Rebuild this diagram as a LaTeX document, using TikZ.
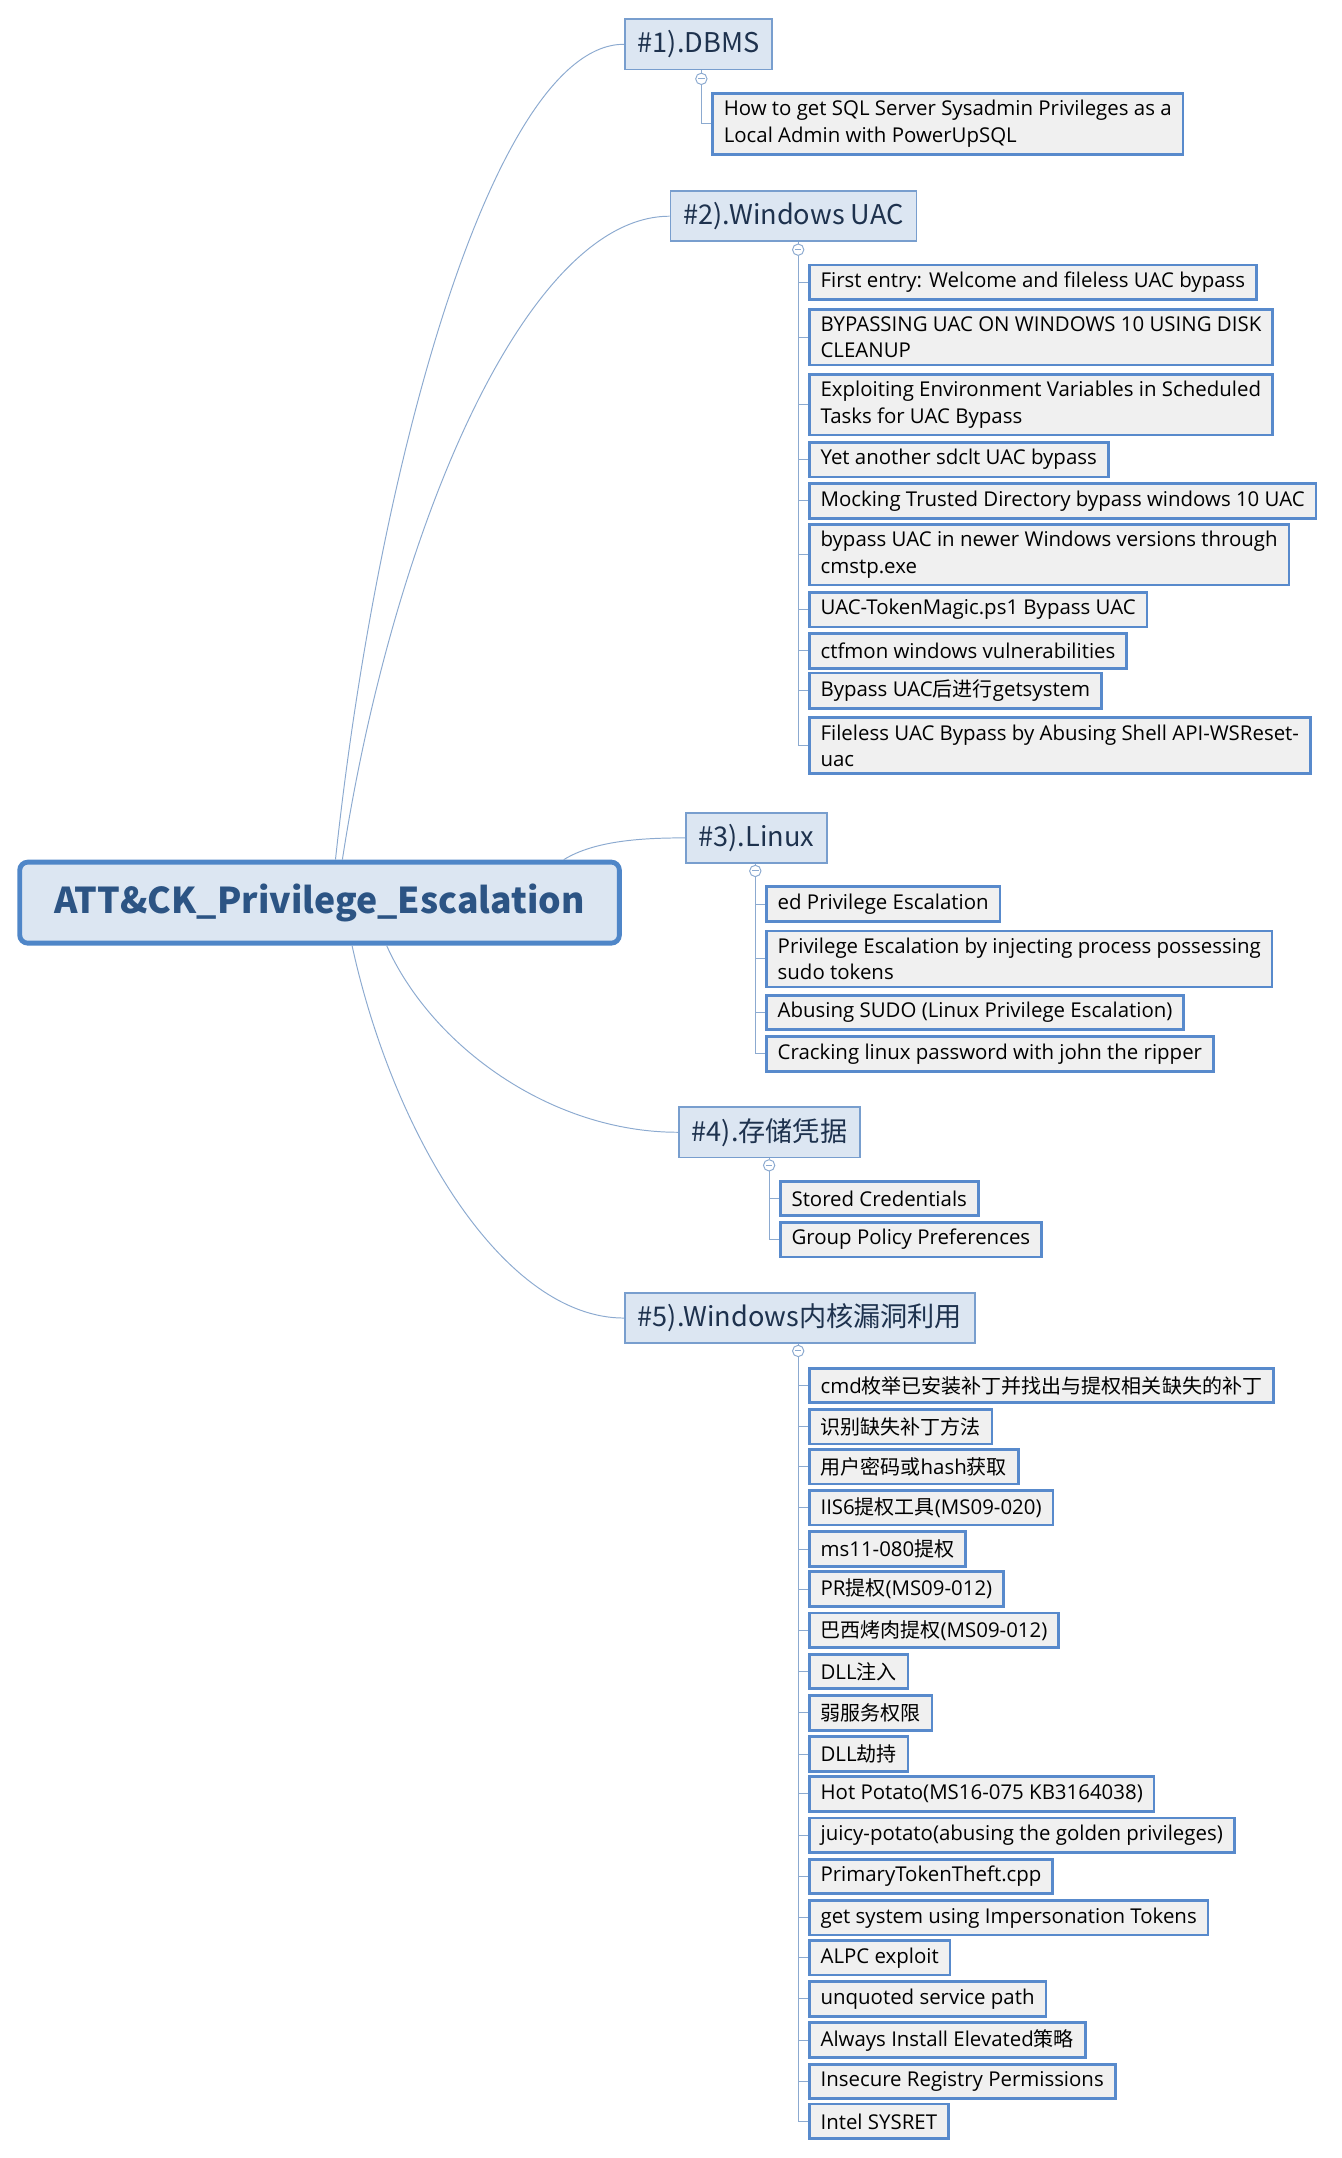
\documentclass[tikz,border=0pt]{standalone}
\usepackage{fontspec}
\setmainfont{Open Sans}
\newfontfamily\cjk[Scale=0.98]{Noto Sans CJK SC}
\usetikzlibrary{calc}

\definecolor{rootedge}{RGB}{79,134,200}
\definecolor{rootink}{RGB}{44,84,132}
\definecolor{topicfill}{RGB}{220,230,242}
\definecolor{topicedge}{RGB}{120,158,206}
\definecolor{topicink}{RGB}{30,50,78}
\definecolor{leafedge}{RGB}{88,138,204}
\definecolor{leaffill}{RGB}{240,240,240}
\definecolor{linkcol}{RGB}{140,170,208}

\begin{document}
\begin{tikzpicture}[x=0.03cm,y=-0.03cm,
    rootbox/.style={draw=rootedge,line width=3pt,fill=topicfill,rounded corners=5pt,
      text=rootink,font=\cjk\fontsize{22.4}{26}\selectfont\bfseries,
      minimum width=370pt,minimum height=50pt},
    topic/.style={draw=topicedge,line width=1.1pt,fill=topicfill,text=topicink,
      font=\cjk\fontsize{17.1}{20}\selectfont,minimum height=31pt,inner xsep=8pt,anchor=west},
    leaf/.style={draw=leafedge,line width=1.7pt,fill=leaffill,
      font=\fontsize{12.6}{16.5}\selectfont,align=left,
      minimum height=21.3pt,inner xsep=7pt,inner ysep=4.2pt,anchor=west},
    link/.style={draw=linkcol,line width=0.6pt},
    fold/.style={circle,draw=linkcol,fill=white,line width=0.6pt,minimum size=7pt,inner sep=0pt}]
  \useasboundingbox (0,0) rectangle (970,1560);

  % central topic
  \node[rootbox] (root) at (231,652.5) {ATT\&CK\_Privilege\_Escalation};

  % main branches
  \node[topic] (dbms)  at (451,32)    {\#1).DBMS};
  \node[topic] (uac)   at (484,156.3) {\#2).Windows UAC};
  \node[topic] (linux) at (495,605.7) {\#3).Linux};
  \node[topic] (cred)  at (490,818.5) {\#4).存储凭据};
  \node[topic] (kern)  at (451,952.8) {\#5).Windows内核漏洞利用};

  % curves from the centre
  \draw[link] ($(root.north west)+(230,0)$) .. controls (275,320) and (360,32) .. (dbms.west);
  \draw[link] ($(root.north west)+(235,0)$) .. controls (284,384) and (380,156.3) .. (uac.west);
  \draw[link] ($(root.north west)+(395,0)$) .. controls (430,607.5) and (465,605.7) .. (linux.west);
  \draw[link] ($(root.south west)+(267,0)$) .. controls (312,756) and (398,818.5) .. (cred.west);
  \draw[link] ($(root.south west)+(242,0)$) .. controls (285,823) and (365,952.8) .. (kern.west);

  % #1 DBMS
  \node[leaf] (d1) at (514,89.5) {How to get SQL Server Sysadmin Privileges as a\\Local Admin with PowerUpSQL};

  % #2 Windows UAC
  \node[leaf] (u1)  at (584,204)   {First entry: Welcome and fileless UAC bypass};
  \node[leaf] (u2)  at (584,243.8) {BYPASSING UAC ON WINDOWS 10 USING DISK\\CLEANUP};
  \node[leaf] (u3)  at (584,292.5) {Exploiting Environment Variables in Scheduled\\Tasks for UAC Bypass};
  \node[leaf] (u4)  at (584,332.3) {Yet another sdclt UAC bypass};
  \node[leaf] (u5)  at (584,362.1) {Mocking Trusted Directory bypass windows 10 UAC};
  \node[leaf] (u6)  at (584,400.9) {bypass UAC in newer Windows versions through\\cmstp.exe};
  \node[leaf] (u7)  at (584,440.7) {UAC-TokenMagic.ps1 Bypass UAC};
  \node[leaf] (u8)  at (584,470.5) {ctfmon windows vulnerabilities};
  \node[leaf] (u9)  at (584,499.3) {Bypass UAC{\cjk 后进行}getsystem};
  \node[leaf] (u10) at (584,539.1) {Fileless UAC Bypass by Abusing Shell API-WSReset-\\uac};

  % #3 Linux
  \node[leaf] (l1) at (553,653.5) {ed Privilege Escalation};
  \node[leaf] (l2) at (553,693.2) {Privilege Escalation by injecting process possessing\\sudo tokens};
  \node[leaf] (l3) at (553,732)   {Abusing SUDO (Linux Privilege Escalation)};
  \node[leaf] (l4) at (553,761.9) {Cracking linux password with john the ripper};

  % #4 stored credentials
  \node[leaf] (c1) at (563,866.3) {Stored Credentials};
  \node[leaf] (c2) at (563,896.1) {Group Policy Preferences};

  % #5 kernel exploits
  \node[leaf] (k1)  at (584,1001.5) {cmd{\cjk 枚举已安装补丁并找出与提权相关缺失的补丁}};
  \node[leaf] (k2)  at (584,1031.3) {{\cjk 识别缺失补丁方法}};
  \node[leaf] (k3)  at (584,1060.2) {{\cjk 用户密码或}hash{\cjk 获取}};
  \node[leaf] (k4)  at (584,1090)   {IIS6{\cjk 提权工具}(MS09-020)};
  \node[leaf] (k5)  at (584,1119.8) {ms11-080{\cjk 提权}};
  \node[leaf] (k6)  at (584,1148.7) {PR{\cjk 提权}(MS09-012)};
  \node[leaf] (k7)  at (584,1178.5) {{\cjk 巴西烤肉提权}(MS09-012)};
  \node[leaf] (k8)  at (584,1208.3) {DLL{\cjk 注入}};
  \node[leaf] (k9)  at (584,1238.2) {{\cjk 弱服务权限}};
  \node[leaf] (k10) at (584,1268)   {DLL{\cjk 劫持}};
  \node[leaf] (k11) at (584,1296.8) {Hot Potato(MS16-075 KB3164038)};
  \node[leaf] (k12) at (584,1326.7) {juicy-potato(abusing the golden privileges)};
  \node[leaf] (k13) at (584,1356.5) {PrimaryTokenTheft.cpp};
  \node[leaf] (k14) at (584,1386.3) {get system using Impersonation Tokens};
  \node[leaf] (k15) at (584,1415.2) {ALPC exploit};
  \node[leaf] (k16) at (584,1445)   {unquoted service path};
  \node[leaf] (k17) at (584,1474.8) {Always Install Elevated{\cjk 策略}};
  \node[leaf] (k18) at (584,1504.7) {Insecure Registry Permissions};
  \node[leaf] (k19) at (584,1533.5) {Intel SYSRET};

  % fold buttons under the branches
  \node[fold] (dfold) at (507,57)    {};
  \node[fold] (ufold) at (577,180.5) {};
  \node[fold] (lfold) at (546,629.6) {};
  \node[fold] (cfold) at (556,842.4) {};
  \node[fold] (kfold) at (577,976.6) {};

  % routine for the tree lines
  \draw[link] (dfold |- dbms.south) -- (dfold.north);
  \draw[link] (ufold |- uac.south) -- (ufold.north);
  \draw[link] (lfold |- linux.south) -- (lfold.north);
  \draw[link] (cfold |- cred.south) -- (cfold.north);
  \draw[link] (kfold |- kern.south) -- (kfold.north);
  \draw[link] (dfold.south) |- (d1.west);
  \foreach \n in {u1,u2,u3,u4,u5,u6,u7,u8,u9,u10}
    \draw[link] (ufold.south) |- (\n.west);
  \foreach \n in {l1,l2,l3,l4}
    \draw[link] (lfold.south) |- (\n.west);
  \foreach \n in {c1,c2}
    \draw[link] (cfold.south) |- (\n.west);
  \foreach \n in {k1,k2,k3,k4,k5,k6,k7,k8,k9,k10,k11,k12,k13,k14,k15,k16,k17,k18,k19}
    \draw[link] (kfold.south) |- (\n.west);
  % minus signs
  \foreach \f in {dfold,ufold,lfold,cfold,kfold}
    \draw[linkcol,line width=0.6pt] ([xshift=-2pt]\f.center) -- ([xshift=2pt]\f.center);
\end{tikzpicture}
\end{document}
